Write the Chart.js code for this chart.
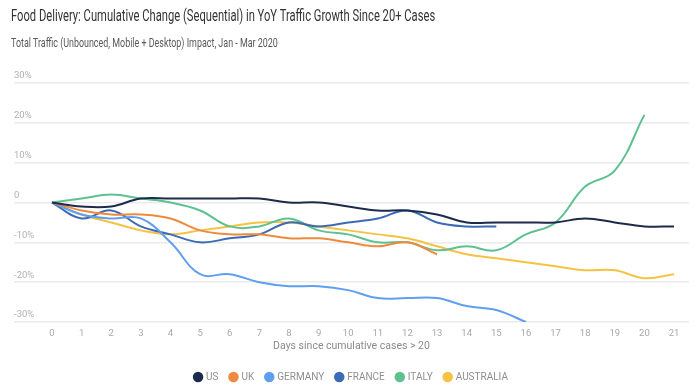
<!DOCTYPE html>
<html>
<head>
<meta charset="utf-8">
<script src="https://cdn.jsdelivr.net/npm/chart.js@4.4.1/dist/chart.umd.min.js"></script>
<style>
  html, body { margin: 0; padding: 0; background: #fff; }
  #wrap { position: relative; width: 700px; height: 387px; }
  #chart { position: absolute; left: 0; top: 0; }
  .head { position: absolute; left: 11px; white-space: nowrap; font-family: Roboto, sans-serif; transform-origin: left center; }
  #title { top: 5px; font-size: 17px; color: #333; }
  #subtitle { top: 34px; font-size: 13.5px; color: #5a5a5a; }
</style>
</head>
<body>
<div id="wrap">
  <canvas id="chart" width="700" height="387"></canvas>
  <div id="title" class="head">Food Delivery: Cumulative Change (Sequential) in YoY Traffic Growth Since 20+ Cases</div>
  <div id="subtitle" class="head">Total Traffic (Unbounced, Mobile + Desktop) Impact, Jan - Mar 2020</div>
</div>
<script>
// Dias desde 20+ casos
const days = [0, 1, 2, 3, 4, 5, 6, 7, 8, 9, 10, 11, 12, 13, 14, 15, 16, 17, 18, 19, 20, 21];
const yTicks = [-30, -20, -10, 0, 10, 20, 30];

// Variação acumulada (%) por país
const us = [0, -1, -1, 1, 1, 1, 1, 1, 0, 0, -1, -2, -2, -3, -5, -5, -5, -5, -4, -5, -6, -6];
const uk = [0, -2, -3, -3, -4, -7, -8, -8, -9, -9, -10, -11, -10, -13];
const germany = [0, -3, -4, -4, -10, -18, -18, -20, -21, -21, -22, -24, -24, -24, -26, -27, -30];
const france = [0, -4, -2, -6, -8, -10, -9, -8, -5, -6, -5, -4, -2, -5, -6, -6];
const italy = [0, 1, 2, 1, 0, -2, -6, -6, -4, -7, -8, -10, -10, -12, -11, -12, -8, -5, 4, 8, 22];
const australia = [0, -3, -5, -7, -8, -7, -6, -5, -5, -6, -7, -8, -9, -11, -13, -14, -15, -16, -17, -17, -19, -18];

const seriesNames = ['US', 'UK', 'GERMANY', 'FRANCE', 'ITALY', 'AUSTRALIA'];
const seriesData = [us, uk, germany, france, italy, australia];
const seriesColors = ['#1c2a4b', '#ee8a3d', '#5f9ff0', '#3b6bb4', '#5ec190', '#f6c244'];

// Ajusta largura dos títulos (fonte condensada no original)
function fitWidth(id, target) {
    const el = document.getElementById(id);
    el.style.transform = 'scaleX(' + (target / el.scrollWidth) + ')';
}
fitWidth('title', 424);
fitWidth('subtitle', 267);

const toPoints = arr => arr.map((v, i) => ({ x: days[i], y: v }));

const ctx = document.getElementById('chart').getContext('2d');
const chart = new Chart(ctx, {
    type: 'line',
    data: {
        datasets: seriesNames.map((name, i) => ({
            label: name,
            data: toPoints(seriesData[i]),
            borderColor: seriesColors[i],
            backgroundColor: seriesColors[i],
            borderWidth: 2,
            pointRadius: 0,
            tension: 0.4,
            fill: false
        }))
    },
    options: {
        responsive: false,
        animation: false,
        layout: {
            padding: { top: 83, left: 14, right: 11, bottom: -5 }
        },
        scales: {
            x: {
                type: 'linear',
                min: -1.283,
                max: 21.506,
                afterBuildTicks: scale => {
                    scale.ticks = days.map(v => ({ value: v }));
                },
                grid: { display: false },
                border: { display: false },
                ticks: {
                    color: '#a8a8a8',
                    font: { family: 'Roboto', size: 9.5 },
                    padding: -2,
                    maxRotation: 0,
                    autoSkip: false
                },
                title: {
                    display: true,
                    text: 'Days since cumulative cases > 20',
                    color: '#8a8a8a',
                    font: { family: 'Roboto', size: 10.5 },
                    padding: { top: 3, bottom: 7 }
                }
            },
            y: {
                min: -30,
                max: 30,
                afterBuildTicks: scale => {
                    scale.ticks = yTicks.map(v => ({ value: v }));
                },
                grid: { color: '#ebebeb', lineWidth: 1.5, drawTicks: false },
                border: { display: false },
                ticks: {
                    mirror: true,
                    padding: 0,
                    labelOffset: -7,
                    color: '#b0b0b0',
                    font: { family: 'Roboto', size: 9.5 },
                    callback: v => (v === 0 ? '0' : v + '%')
                }
            }
        },
        plugins: {
            legend: {
                position: 'bottom',
                labels: {
                    usePointStyle: true,
                    pointStyle: 'circle',
                    boxWidth: 6,
                    boxHeight: 6,
                    padding: 12,
                    color: '#8f8f8f',
                    font: { family: 'Roboto', size: 10 }
                }
            },
            tooltip: { enabled: false }
        }
    }
});
</script>
</body>
</html>
